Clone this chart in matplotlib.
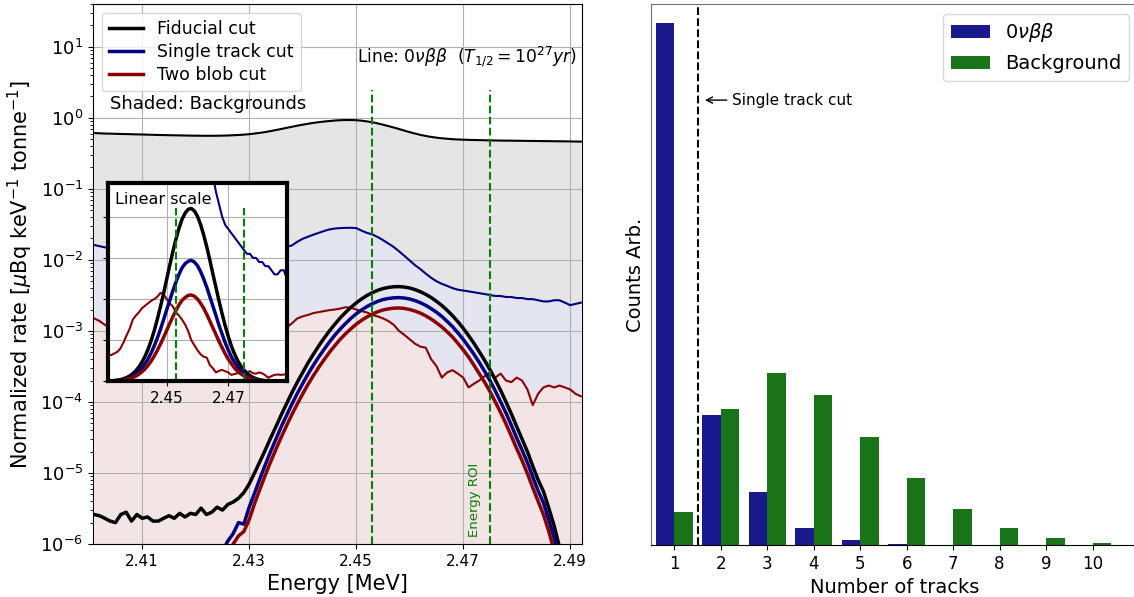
import numpy as np
import matplotlib
matplotlib.use('Agg')
import matplotlib.pyplot as plt

# energy bins [MeV], 1 keV wide
energy = np.linspace(2.401, 2.492, 92)

# backgrounds after each cut [uBq/keV/tonne]
bg_fiducial = [0.610, 0.605, 0.600, 0.598, 0.595, 0.592, 0.590, 0.587, 0.584, 0.582,
               0.579, 0.576, 0.573, 0.571, 0.569, 0.567, 0.565, 0.563, 0.561, 0.560,
               0.559, 0.558, 0.558, 0.559, 0.561, 0.564, 0.568, 0.573, 0.579, 0.588,
               0.600, 0.614, 0.630, 0.650, 0.672, 0.696, 0.722, 0.748, 0.775, 0.800,
               0.825, 0.848, 0.868, 0.886, 0.900, 0.915, 0.925, 0.930, 0.930, 0.925,
               0.910, 0.890, 0.865, 0.835, 0.800, 0.765, 0.730, 0.695, 0.660, 0.628,
               0.600, 0.575, 0.555, 0.538, 0.525, 0.515, 0.507, 0.500, 0.495, 0.492,
               0.489, 0.487, 0.485, 0.483, 0.481, 0.479, 0.478, 0.477, 0.476, 0.475,
               0.474, 0.473, 0.472, 0.471, 0.470, 0.469, 0.468, 0.467, 0.466, 0.465,
               0.463, 0.462]
bg_single = [0.0162, 0.0156, 0.0150, 0.0146, 0.0143, 0.0141, 0.0140, 0.0139, 0.0138, 0.0137,
             0.0136, 0.0135, 0.0135, 0.0134, 0.0134, 0.0134, 0.0134, 0.0134, 0.0135, 0.0135,
             0.0136, 0.0136, 0.0137, 0.0138, 0.0139, 0.0140, 0.0141, 0.0142, 0.0143, 0.0144,
             0.0145, 0.0146, 0.0147, 0.0148, 0.0149, 0.0150, 0.0152, 0.0160, 0.0180, 0.0198,
             0.0212, 0.0226, 0.0240, 0.0255, 0.0268, 0.0276, 0.0280, 0.0282, 0.0283, 0.0280,
             0.0258, 0.0240, 0.0228, 0.0210, 0.0190, 0.0170, 0.0152, 0.0132, 0.0114, 0.0098,
             0.0084, 0.0074, 0.0064, 0.0056, 0.0050, 0.0046, 0.0043, 0.0040, 0.0038, 0.0037,
             0.0036, 0.0035, 0.0034, 0.0033, 0.0032, 0.0031, 0.0031, 0.0030, 0.0030, 0.0029,
             0.0029, 0.0028, 0.0028, 0.0027, 0.0026, 0.0026, 0.0027, 0.0027, 0.0025, 0.0023,
             0.0024, 0.0025]
bg_blob = [0.00150, 0.00138, 0.00122, 0.00110, 0.00105, 0.00100, 0.00097, 0.00094, 0.00091, 0.00088,
           0.00086, 0.00084, 0.00082, 0.00080, 0.00078, 0.00076, 0.00075, 0.00074, 0.00073, 0.00072,
           0.00071, 0.00070, 0.00069, 0.00068, 0.00067, 0.00066, 0.00066, 0.00065, 0.00065, 0.00064,
           0.00066, 0.00064, 0.00068, 0.00072, 0.00080, 0.00095, 0.00112, 0.00128, 0.00150, 0.00160,
           0.00168, 0.00178, 0.00184, 0.00190, 0.00196, 0.00200, 0.00206, 0.00215, 0.00212, 0.00200,
           0.00190, 0.00182, 0.00168, 0.00160, 0.00150, 0.00138, 0.00122, 0.00100, 0.00088, 0.00076,
           0.00066, 0.00060, 0.00058, 0.00040, 0.00032, 0.00022, 0.00026, 0.00028, 0.00025, 0.00022,
           0.00016, 0.00018, 0.00020, 0.00023, 0.00026, 0.00022, 0.00025, 0.00020, 0.00019, 0.00022,
           0.00020, 0.00015, 0.00009, 0.00013, 0.00016, 0.00017, 0.00016, 0.00017, 0.00016, 0.00015,
           0.00013, 0.00012]

# 0vbb signal after each cut
sig_fiducial = [2.6e-6, 2.5e-6, 2.3e-6, 2.1e-6, 2.0e-6, 2.6e-6, 2.8e-6, 2.1e-6, 2.6e-6, 2.3e-6,
                2.4e-6, 2.1e-6, 2.1e-6, 2.3e-6, 2.5e-6, 2.3e-6, 2.7e-6, 2.4e-6, 2.7e-6, 2.6e-6,
                3.2e-6, 2.6e-6, 2.8e-6, 3.3e-6, 3.0e-6, 3.6e-6, 3.9e-6, 4.4e-6, 5.3e-6, 7.0e-6,
                1.0e-5, 1.45e-5, 2.1e-5, 3.1e-5, 4.5e-5, 6.6e-5, 9.5e-5, 1.36e-4, 1.9e-4, 2.6e-4,
                3.55e-4, 4.7e-4, 6.15e-4, 7.9e-4, 1.0e-3, 1.24e-3, 1.52e-3, 1.82e-3, 2.14e-3, 2.48e-3,
                2.82e-3, 3.15e-3, 3.45e-3, 3.72e-3, 3.94e-3, 4.09e-3, 4.18e-3, 4.20e-3, 4.14e-3, 4.01e-3,
                3.81e-3, 3.56e-3, 3.27e-3, 2.95e-3, 2.61e-3, 2.28e-3, 1.95e-3, 1.64e-3, 1.35e-3, 1.09e-3,
                8.6e-4, 6.7e-4, 5.1e-4, 3.85e-4, 2.85e-4, 2.05e-4, 1.45e-4, 1.0e-4, 6.8e-5, 4.5e-5,
                3.0e-5, 2.0e-5, 1.25e-5, 8.0e-6, 5.5e-6, 3.2e-6, 1.8e-6, 9.0e-7, 5.0e-7, 2.5e-7,
                1.2e-7, 6e-8]
sig_single = [3e-7, 3e-7, 3e-7, 3e-7, 3e-7, 3e-7, 3e-7, 3e-7, 3e-7, 3e-7,
              3e-7, 3e-7, 3e-7, 3e-7, 3e-7, 3e-7, 3e-7, 3e-7, 3e-7, 3e-7,
              3e-7, 3e-7, 4e-7, 6e-7, 8e-7, 1.1e-6, 1.4e-6, 2.0e-6, 1.9e-6, 3.3e-6,
              5.2e-6, 8.3e-6, 1.3e-5, 2.0e-5, 3.0e-5, 4.5e-5, 6.5e-5, 9.4e-5, 1.32e-4, 1.82e-4,
              2.47e-4, 3.29e-4, 4.3e-4, 5.5e-4, 7.0e-4, 8.7e-4, 1.06e-3, 1.27e-3, 1.50e-3, 1.74e-3,
              1.97e-3, 2.20e-3, 2.41e-3, 2.60e-3, 2.76e-3, 2.86e-3, 2.92e-3, 2.94e-3, 2.90e-3, 2.81e-3,
              2.67e-3, 2.49e-3, 2.29e-3, 2.06e-3, 1.83e-3, 1.60e-3, 1.36e-3, 1.15e-3, 9.4e-4, 7.6e-4,
              6.0e-4, 4.7e-4, 3.6e-4, 2.7e-4, 2.0e-4, 1.43e-4, 1.0e-4, 7.0e-5, 4.7e-5, 3.1e-5,
              2.1e-5, 1.4e-5, 8.8e-6, 5.6e-6, 3.8e-6, 2.2e-6, 1.2e-6, 6.3e-7, 3.5e-7, 1.7e-7,
              8e-8, 4e-8]
sig_blob = [2e-7, 2e-7, 2e-7, 2e-7, 2e-7, 2e-7, 2e-7, 2e-7, 2e-7, 2e-7,
            2e-7, 2e-7, 2e-7, 2e-7, 2e-7, 2e-7, 2e-7, 2e-7, 2e-7, 2e-7,
            2e-7, 2e-7, 2e-7, 3e-7, 4e-7, 6e-7, 1.0e-6, 1.3e-6, 1.5e-6, 2.2e-6,
            3.7e-6, 5.9e-6, 9.3e-6, 1.43e-5, 2.16e-5, 3.2e-5, 4.66e-5, 6.7e-5, 9.4e-5, 1.30e-4,
            1.77e-4, 2.35e-4, 3.07e-4, 3.94e-4, 5.0e-4, 6.2e-4, 7.6e-4, 9.1e-4, 1.07e-3, 1.24e-3,
            1.41e-3, 1.57e-3, 1.72e-3, 1.86e-3, 1.97e-3, 2.04e-3, 2.09e-3, 2.10e-3, 2.07e-3, 2.00e-3,
            1.90e-3, 1.78e-3, 1.63e-3, 1.47e-3, 1.30e-3, 1.14e-3, 9.7e-4, 8.2e-4, 6.7e-4, 5.4e-4,
            4.3e-4, 3.3e-4, 2.5e-4, 1.9e-4, 1.4e-4, 1.0e-4, 7.1e-5, 4.9e-5, 3.3e-5, 2.2e-5,
            1.5e-5, 9.8e-6, 6.2e-6, 4.0e-6, 2.6e-6, 1.5e-6, 8e-7, 4.4e-7, 2.4e-7, 1.2e-7,
            6e-8, 3e-8]

roi = [2.453, 2.475]

# track multiplicity
ntracks = np.arange(1, 11)
tracks_0nbb = [0.717, 0.179, 0.073, 0.023, 0.007, 0.0014, 0, 0, 0, 0]
tracks_bkg = [0.045, 0.187, 0.236, 0.206, 0.148, 0.092, 0.049, 0.023, 0.010, 0.003]

fig = plt.figure(figsize=(11.34, 5.97), dpi=100)

# ---- left: energy spectrum
ax = fig.add_axes([0.0820, 0.0888, 0.4312, 0.9045])
ax.fill_between(energy, bg_single, bg_fiducial, color='k', alpha=0.1, lw=0)
ax.fill_between(energy, bg_blob, bg_single, color='navy', alpha=0.1, lw=0)
ax.fill_between(energy, 1e-8, bg_blob, color='darkred', alpha=0.1, lw=0)
ax.plot(energy, bg_fiducial, color='k', lw=1.5)
ax.plot(energy, bg_single, color='navy', lw=1.5)
ax.plot(energy, bg_blob, color='darkred', lw=1.5)
ax.plot(energy, sig_fiducial, color='k', lw=2.5, label='Fiducial cut')
ax.plot(energy, sig_single, color='navy', lw=2.5, label='Single track cut')
ax.plot(energy, sig_blob, color='darkred', lw=2.5, label='Two blob cut')
ax.vlines(roi, 1e-6, 2.5, colors='green', linestyles='--', lw=1.5)
ax.text(2.4722, 4.2e-6, 'Energy ROI', rotation=90, color='green', fontsize=9.5,
        ha='center', va='center')
ax.set_yscale('log')
ax.set_xlim(2.4008, 2.4922)
ax.set_ylim(1e-6, 40)
ax.set_yticks([1e-6, 1e-5, 1e-4, 1e-3, 1e-2, 1e-1, 1e0, 1e1])
ax.set_xticks([2.41, 2.43, 2.45, 2.47, 2.49])
ax.tick_params(axis='x', labelsize=11)
ax.tick_params(axis='y', labelsize=13)
ax.grid(True)
ax.set_xlabel('Energy [MeV]', fontsize=15)
ax.set_ylabel(r'Normalized rate [$\mu$Bq keV$^{-1}$ tonne$^{-1}$]', fontsize=15)
ax.legend(loc='upper left', fontsize=12.5, labelspacing=0.3)
ax.text(0.035, 0.815, 'Shaded: Backgrounds', transform=ax.transAxes, fontsize=13,
        va='center')
ax.text(0.99, 0.902, r'Line: $0\nu\beta\beta$  $(T_{1/2} = 10^{27} yr)$',
        transform=ax.transAxes, fontsize=12.3, ha='right', va='center')

# ---- inset, linear scale
axin = fig.add_axes([0.0948, 0.361, 0.1587, 0.3333])
axin.plot(energy, bg_single, color='navy', lw=1.5)
axin.plot(energy, bg_blob, color='darkred', lw=1.5)
axin.plot(energy, sig_fiducial, color='k', lw=2.5)
axin.plot(energy, sig_single, color='navy', lw=2.5)
axin.plot(energy, sig_blob, color='darkred', lw=2.5)
axin.vlines(roi, 0, 0.0042, colors='green', linestyles='--', lw=1.5)
axin.set_xlim(2.4308, 2.4892)
axin.set_ylim(0, 0.00483)
axin.set_xticks([2.45, 2.47])
axin.set_yticks([0, 0.001, 0.002, 0.003, 0.004])
axin.set_yticklabels([])
axin.tick_params(axis='x', labelsize=11)
axin.grid(True)
for s in axin.spines.values():
    s.set_linewidth(3)
axin.text(0.042, 0.917, 'Linear scale', transform=axin.transAxes, fontsize=11.5,
          va='center')

# ---- right: number of tracks
ax2 = fig.add_axes([0.5741, 0.0871, 0.4303, 0.9062])
ax2.bar(ntracks - 0.2, tracks_0nbb, 0.4, color='navy', alpha=0.9, label=r'$0\nu\beta\beta$')
ax2.bar(ntracks + 0.2, tracks_bkg, 0.4, color='darkgreen', alpha=0.9, label='Background')
ax2.axvline(1.5, color='k', ls='--', lw=1.5)
ax2.annotate('Single track cut', xy=(1.6, 0.611), xytext=(2.25, 0.611), fontsize=11,
             va='center', ha='left', arrowprops=dict(arrowstyle='->', color='k', lw=1))
ax2.set_xlim(0.5, 11.0)
ax2.set_ylim(0, 0.743)
ax2.set_xticks(ntracks)
ax2.set_yticks([])
ax2.tick_params(axis='x', labelsize=12)
ax2.spines['top'].set_color('0.45')
ax2.spines['left'].set_color('0.45')
ax2.set_xlabel('Number of tracks', fontsize=14)
ax2.set_ylabel('Counts Arb.', fontsize=14)
ax2.legend(loc='upper right', fontsize=14)

fig.savefig('out.png', dpi=100)
